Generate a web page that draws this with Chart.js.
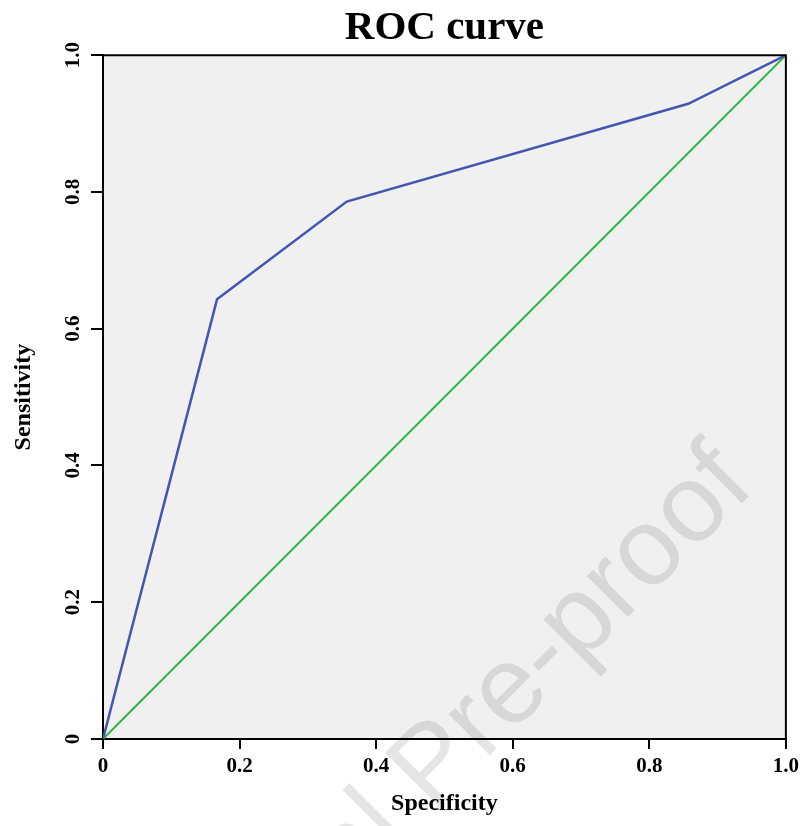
<!DOCTYPE html>
<html>
<head>
<meta charset="utf-8">
<script src="https://cdn.jsdelivr.net/npm/chart.js@4"></script>
<style>
  html, body { margin: 0; padding: 0; background: #ffffff; }
  #wrap { width: 804px; height: 826px; position: relative; }
</style>
</head>
<body>
<div id="wrap"><canvas id="rocChart"></canvas></div>
<script>
// =======================
// DATA
// =======================
let specificity = [0, 0.167, 0.357, 0.857, 1];
let sensitivity = [0, 0.643, 0.786, 0.929, 1];

let refX = [0, 1];
let refY = [0, 1];

let tickValues = [0, 0.2, 0.4, 0.6, 0.8, 1.0];

let watermarkText = "Journal Pre-proof";

// =======================
// HELPERS
// =======================
function toPoints(xs, ys) {
    return xs.map((x, i) => ({ x: x, y: ys[i] }));
}

function tickLabel(v) {
    return v === 0 ? "0" : v.toFixed(1);
}

const serif = "'Liberation Serif', 'Times New Roman', serif";

// =======================
// PLUGINS
// =======================
// plot background + faint watermark, drawn under the axes
const backdrop = {
    id: "backdrop",
    beforeDraw(chart) {
        const { ctx, chartArea: a } = chart;
        ctx.save();
        ctx.fillStyle = "#f0f0f0";
        ctx.fillRect(a.left, a.top, a.right - a.left, a.bottom - a.top);

        ctx.font = "110px 'Liberation Sans', Arial, sans-serif";
        ctx.fillStyle = "rgba(0,0,0,0.1)";
        ctx.textBaseline = "alphabetic";
        ctx.textAlign = "left";
        // anchor: centre of the first "o" of "proof"
        const lead = ctx.measureText("Journal Pre-pr").width + ctx.measureText("o").width / 2;
        ctx.translate(670, 575);
        ctx.rotate(-Math.PI / 4);
        ctx.fillText(watermarkText, -lead, 0);
        ctx.restore();
    },
    afterDatasetsDraw(chart) {
        const { ctx, chartArea: a } = chart;
        ctx.save();
        ctx.strokeStyle = "#000";
        ctx.lineWidth = 2;
        ctx.beginPath();
        ctx.moveTo(a.left, a.top);
        ctx.lineTo(a.right, a.top);
        ctx.lineTo(a.right, a.bottom);
        ctx.stroke();
        ctx.restore();
    }
};

// =======================
// CHART
// =======================
new Chart(document.getElementById("rocChart"), {
    type: "scatter",
    data: {
        datasets: [
            {
                label: "ROC",
                data: toPoints(specificity, sensitivity),
                showLine: true,
                borderColor: "#4356b0",
                borderWidth: 2.5,
                pointRadius: 0,
                fill: false
            },
            {
                label: "Reference",
                data: toPoints(refX, refY),
                showLine: true,
                borderColor: "#33b24a",
                borderWidth: 2,
                pointRadius: 0,
                fill: false
            }
        ]
    },
    options: {
        responsive: true,
        maintainAspectRatio: false,
        animation: false,
        layout: { padding: { left: 0, right: 16, top: 0, bottom: 0 } },
        plugins: {
            legend: { display: false },
            tooltip: { enabled: false },
            title: {
                display: true,
                text: "ROC curve",
                color: "#000",
                fullSize: false,
                font: { family: serif, size: 41, weight: "bold", lineHeight: 1.2 },
                padding: { top: 4, bottom: 2 }
            }
        },
        scales: {
            x: {
                type: "linear",
                min: 0,
                max: 1,
                afterBuildTicks: s => { s.ticks = tickValues.map(v => ({ value: v })); },
                afterFit: s => { s.height = 87; },
                grid: { drawOnChartArea: false, color: "#000", lineWidth: 2, tickLength: 10 },
                border: { color: "#000", width: 2 },
                ticks: {
                    color: "#000",
                    padding: 5,
                    maxRotation: 0,
                    font: { family: serif, size: 21, weight: "bold" },
                    callback: v => tickLabel(v)
                },
                title: {
                    display: true,
                    text: "Specificity",
                    color: "#000",
                    font: { family: serif, size: 24, weight: "bold", lineHeight: 1.2 },
                    padding: { top: 0, bottom: 8 }
                }
            },
            y: {
                type: "linear",
                min: 0,
                max: 1,
                afterBuildTicks: s => { s.ticks = tickValues.map(v => ({ value: v })); },
                afterFit: s => { s.width = 103; },
                grid: { drawOnChartArea: false, color: "#000", lineWidth: 2, tickLength: 12 },
                border: { color: "#000", width: 2 },
                ticks: {
                    color: "#000",
                    padding: 4,
                    minRotation: 90,
                    maxRotation: 90,
                    crossAlign: "center",
                    font: { family: serif, size: 21, weight: "bold" },
                    callback: v => tickLabel(v)
                },
                title: {
                    display: true,
                    text: "Sensitivity",
                    color: "#000",
                    font: { family: serif, size: 24, weight: "bold", lineHeight: 1.2 },
                    padding: { top: 9, bottom: 0 }
                }
            }
        }
    },
    plugins: [backdrop]
});
</script>
</body>
</html>
